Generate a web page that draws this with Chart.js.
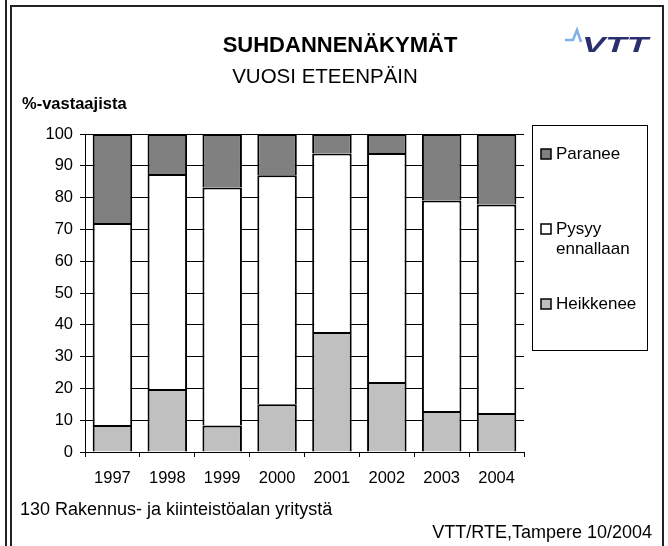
<!DOCTYPE html>
<html>
<head>
<meta charset="utf-8">
<script src="https://cdn.jsdelivr.net/npm/chart.js@4/dist/chart.umd.min.js"></script>
<style>
  html, body { margin: 0; padding: 0; background: #fff; }
  #wrap { width: 668px; height: 546px; position: relative; }
</style>
</head>
<body>
<div id="wrap"><canvas id="c" width="668" height="546"></canvas></div>
<script>
const categories = ['1997', '1998', '1999', '2000', '2001', '2002', '2003', '2004'];
const heikkenee = [8.5, 19.8, 8.3, 15.0, 37.7, 22.0, 12.9, 12.3];
const pysyy = [63.5, 67.6, 74.9, 72.0, 56.2, 72.0, 66.2, 65.5];
const paranee = [28.0, 12.6, 16.8, 13.0, 6.1, 6.0, 20.9, 22.2];
const yTicks = [0, 10, 20, 30, 40, 50, 60, 70, 80, 90, 100];

const FONT = '"Liberation Sans", Arial, sans-serif';

const decor = {
  id: 'decor',
  beforeDraw(chart) {
    const ctx = chart.ctx;
    ctx.save();
    ctx.fillStyle = '#fff';
    ctx.fillRect(0, 0, chart.width, chart.height);
    ctx.restore();
  },
  afterDraw(chart) {
    const ctx = chart.ctx;
    ctx.save();
    // frames
    ctx.strokeStyle = '#222';
    ctx.lineWidth = 2;
    ctx.beginPath();
    ctx.moveTo(6, 0); ctx.lineTo(6, 546);
    ctx.stroke();
    ctx.beginPath();
    ctx.moveTo(11, 548); ctx.lineTo(11, 6); ctx.lineTo(663, 6); ctx.lineTo(663, 548);
    ctx.stroke();

    // titles
    ctx.fillStyle = '#000';
    ctx.textBaseline = 'middle';
    ctx.textAlign = 'center';
    ctx.font = 'bold 22px ' + FONT;
    ctx.fillText('SUHDANNENÄKYMÄT', 340, 46);
    ctx.font = '20.5px ' + FONT;
    ctx.fillText('VUOSI ETEENPÄIN', 325, 77);
    ctx.textAlign = 'left';
    ctx.font = 'bold 16.5px ' + FONT;
    ctx.fillText('%-vastaajista', 22, 104);

    // footnotes
    ctx.font = '18px ' + FONT;
    ctx.fillText('130 Rakennus- ja kiinteistöalan yritystä', 20, 510);
    ctx.textAlign = 'right';
    ctx.fillText('VTT/RTE,Tampere 10/2004', 652, 533);

    // legend box
    ctx.strokeStyle = '#000';
    ctx.lineWidth = 1;
    ctx.strokeRect(532.5, 125.5, 115, 225);
    const items = [
      {lines: ['Paranee'], color: '#808080', y: 154},
      {lines: ['Pysyy', 'ennallaan'], color: '#ffffff', y: 229},
      {lines: ['Heikkenee'], color: '#c0c0c0', y: 304}
    ];
    ctx.font = '17px ' + FONT;
    ctx.textAlign = 'left';
    items.forEach(it => {
      ctx.fillStyle = it.color;
      ctx.fillRect(541, it.y - 5, 10, 10);
      ctx.strokeStyle = '#000';
      ctx.lineWidth = 1.5;
      ctx.strokeRect(541, it.y - 5, 10, 10);
      ctx.fillStyle = '#000';
      it.lines.forEach((l, i) => ctx.fillText(l, 556, it.y + i * 20));
    });

    // VTT logo
    ctx.strokeStyle = '#7fb2e5';
    ctx.lineWidth = 2.5;
    ctx.beginPath();
    ctx.moveTo(565, 40); ctx.lineTo(573, 40); ctx.lineTo(577, 30); ctx.lineTo(581, 42);
    ctx.stroke();
    ctx.fillStyle = '#2b2f6e';
    ctx.font = 'italic bold 28px ' + FONT;
    ctx.textAlign = 'left';
    ctx.save();
    ctx.translate(582, 52);
    ctx.scale(1.25, 0.8);
    ctx.textBaseline = 'alphabetic';
    ctx.fillText('VTT', 0, 0);
    ctx.restore();
    ctx.restore();
  }
};

new Chart(document.getElementById('c'), {
  type: 'bar',
  data: {
    labels: categories,
    datasets: [
      {label: 'Heikkenee', data: heikkenee, backgroundColor: '#c0c0c0', borderColor: '#000', borderWidth: 2, barPercentage: 0.72, categoryPercentage: 1},
      {label: 'Pysyy ennallaan', data: pysyy, backgroundColor: '#ffffff', borderColor: '#000', borderWidth: 2, barPercentage: 0.72, categoryPercentage: 1},
      {label: 'Paranee', data: paranee, backgroundColor: '#808080', borderColor: '#000', borderWidth: 2, barPercentage: 0.72, categoryPercentage: 1}
    ]
  },
  options: {
    responsive: false,
    animation: false,
    devicePixelRatio: 1,
    layout: {padding: {top: 134, right: 144, bottom: 54, left: 0}},
    plugins: {legend: {display: false}, tooltip: {enabled: false}},
    scales: {
      x: {
        stacked: true,
        grid: {drawOnChartArea: false, drawTicks: true, tickLength: 5, color: '#000', offset: true},
        border: {color: '#000', width: 1},
        ticks: {color: '#000', font: {family: FONT, size: 16.5}, padding: 12, maxRotation: 0},
        afterFit(s) { s.height = 40; }
      },
      y: {
        stacked: true,
        min: 0, max: 100,
        afterBuildTicks(s) { s.ticks = yTicks.map(v => ({value: v})); },
        grid: {color: '#000', lineWidth: 1, tickLength: 5, drawTicks: true},
        border: {color: '#000', width: 1},
        ticks: {color: '#000', font: {family: FONT, size: 16.5}, padding: 7},
        afterFit(s) { s.width = 85; }
      }
    }
  },
  plugins: [decor]
});
</script>
</body>
</html>
